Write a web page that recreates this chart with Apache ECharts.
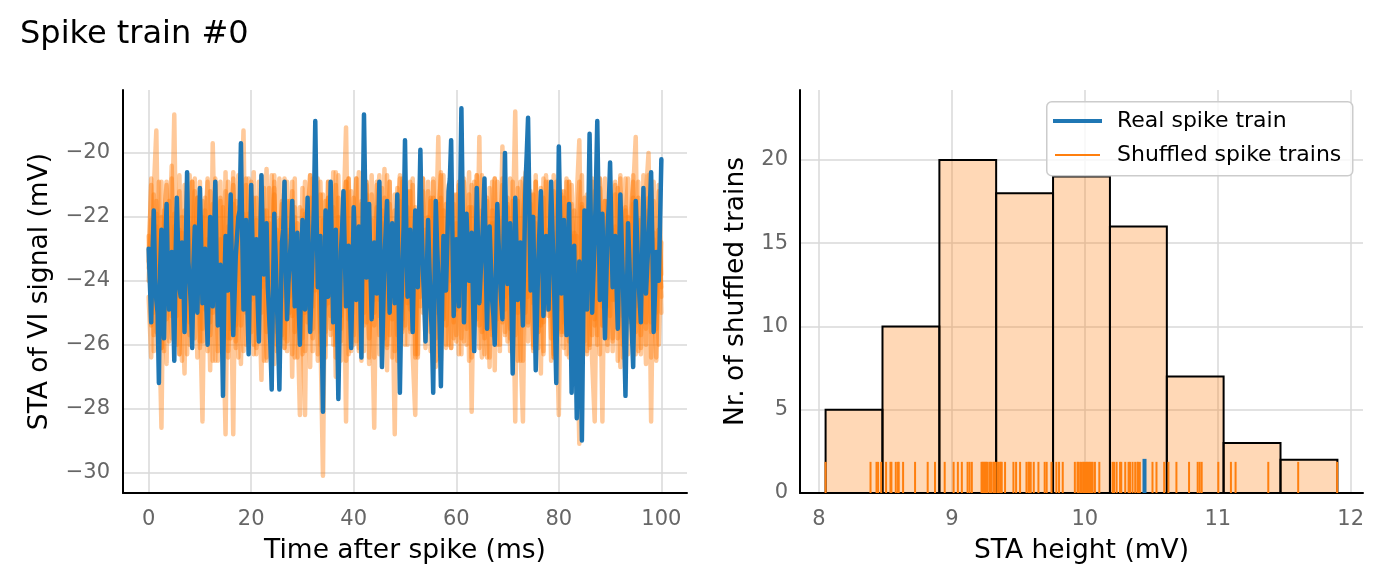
<!DOCTYPE html>
<html>
<head>
<meta charset="utf-8">
<script src="https://cdn.jsdelivr.net/npm/echarts@6/dist/echarts.min.js"></script>
<style>
html,body{margin:0;padding:0;background:#fff;}
#chart{width:1386px;height:583px;}
</style>
</head>
<body>
<div id="chart"></div>
<script>
// ---------- DATA ----------
const TITLE = 'Spike train #0';
const REAL_STEP_MS = 0.25;     // sampling step of the real STA trace
const SHUFFLED_STEP_MS = 0.5;  // sampling step of the shuffled STA traces

// Real spike-train STA (mV), t = 0 .. 100 ms
const realSTA = [
-23.0,-24.1,-25.3,-23.2,-21.8,-23.9,-24.6,-25.0,-27.2,-23.6,-22.4,-24.3,-25.8,-23.0,-21.6,-23.8,-24.9,-24.2,-23.1,-24.6,-26.5,-23.3,-21.4,-23.0,-24.2,-24.5,-22.8,-23.7,-25.6,-22.9,-20.6,-23.4,-24.0,-24.8,-26.1,-23.5,-22.3,-24.0,-25.0,-23.1,
-21.1,-22.9,-24.7,-23.6,-23.0,-24.7,-26.0,-23.8,-22.0,-23.2,-24.8,-22.8,-20.9,-23.5,-25.4,-24.1,-23.5,-25.2,-27.6,-24.4,-22.6,-23.1,-24.3,-22.7,-21.3,-23.9,-25.7,-24.5,-23.2,-22.6,-22.0,-21.8,-19.7,-22.5,-24.9,-23.4,-22.1,-24.6,-26.3,-23.7,
-21.0,-22.8,-24.4,-23.3,-22.7,-24.5,-25.9,-23.1,-20.7,-22.6,-23.8,-23.0,-22.2,-24.2,-25.1,-26.0,-27.4,-24.3,-21.9,-23.2,-24.6,-25.8,-27.4,-24.9,-22.8,-22.4,-20.9,-23.6,-25.2,-24.1,-23.4,-22.7,-21.5,-23.5,-24.8,-23.4,-22.5,-24.7,-26.0,-23.9,
-22.1,-23.5,-24.9,-23.0,-21.4,-23.7,-25.6,-24.4,-23.0,-21.6,-19.0,-21.9,-24.2,-23.4,-22.6,-25.5,-28.1,-25.0,-21.8,-23.3,-24.5,-22.8,-20.9,-23.2,-25.3,-23.9,-22.4,-25.1,-27.7,-25.3,-23.1,-22.3,-21.2,-23.1,-24.8,-23.8,-22.9,-24.6,-26.1,-24.0,
-21.7,-23.0,-24.6,-23.5,-22.3,-24.1,-26.4,-22.0,-18.8,-21.5,-23.9,-22.9,-21.6,-23.6,-25.2,-24.0,-22.8,-23.7,-24.4,-22.6,-20.9,-23.8,-26.7,-24.9,-23.3,-22.4,-21.5,-23.2,-25.0,-23.6,-22.2,-23.3,-24.7,-22.9,-21.3,-24.4,-27.5,-25.1,-23.6,-22.2,
-19.6,-22.4,-24.5,-23.2,-22.4,-24.1,-25.6,-23.4,-21.8,-23.0,-24.2,-22.0,-19.9,-22.3,-23.7,-24.6,-25.9,-23.8,-22.1,-23.5,-24.8,-25.7,-27.5,-24.2,-21.5,-22.9,-23.9,-25.4,-27.3,-24.6,-22.6,-23.1,-24.3,-22.8,-21.2,-20.8,-19.6,-22.6,-25.1,-23.7,
-22.7,-23.9,-24.8,-21.5,-18.6,-21.7,-25.3,-23.4,-21.9,-23.1,-24.0,-23.3,-22.5,-24.5,-26.2,-23.6,-21.1,-22.9,-24.7,-23.8,-23.0,-22.0,-20.8,-23.4,-25.5,-23.7,-22.3,-23.5,-24.6,-25.1,-26.0,-23.7,-21.6,-22.8,-23.8,-24.6,-25.2,-22.5,-20.0,-22.9,
-24.1,-23.0,-22.2,-24.5,-26.9,-24.2,-21.4,-23.0,-24.6,-23.7,-22.8,-24.1,-25.4,-23.2,-21.0,-20.0,-18.9,-21.6,-24.3,-23.1,-22.0,-24.4,-26.8,-25.0,-23.4,-22.3,-21.2,-23.1,-25.1,-23.9,-22.6,-23.8,-24.9,-22.8,-20.9,-22.4,-23.7,-25.4,-27.2,-23.6,
-19.8,-22.0,-24.4,-23.1,-22.1,-24.0,-25.7,-23.6,-21.6,-24.5,-27.5,-25.0,-22.9,-25.6,-28.3,-25.9,-23.4,-26.1,-29.0,-25.3,-21.8,-23.2,-24.9,-22.1,-19.4,-22.3,-25.0,-23.8,-22.7,-21.0,-19.0,-21.8,-24.6,-23.2,-21.9,-24.0,-25.8,-24.1,-22.4,-21.6,
-20.3,-22.5,-24.2,-23.3,-22.6,-24.1,-25.5,-23.4,-21.3,-22.7,-24.0,-25.8,-27.6,-24.9,-22.2,-23.3,-24.7,-25.6,-26.7,-24.2,-21.5,-22.6,-23.8,-24.6,-25.3,-23.2,-21.1,-22.9,-24.4,-23.5,-22.8,-21.7,-20.6,-22.9,-25.6,-24.4,-23.1,-23.7,-24.0,-22.1,
-20.2
];

// Shuffled spike-train STAs (mV), t = 0 .. 100 ms
const shuffledSTA1 = [
-22.6,-25.4,-21.2,-19.3,-24.8,-22.0,-26.2,-21.7,-24.1,-22.9,-18.8,-25.1,-22.4,-26.5,-21.0,-23.8,-25.7,-20.9,-24.5,-22.2,
-25.9,-21.5,-24.3,-22.7,-26.8,-19.7,-23.6,-25.2,-21.4,-24.9,-28.8,-22.3,-25.5,-20.8,-24.0,-26.4,-22.1,-19.3,-25.0,-21.9,
-24.6,-20.6,-26.1,-22.8,-24.2,-21.1,-25.6,-23.0,-20.7,-26.6,-22.4,-24.7,-21.6,-25.8,-20.9,-23.9,-26.3,-22.0,-24.8,-28.2,
-21.8,-25.0,-22.5,-26.7,-20.8,-24.3,-22.9,-25.6,-30.1,-21.5,-24.7,-22.3,-26.0,-20.6,-23.8,-25.9,-22.1,-19.2,-24.6,-26.2,
-21.4,-24.1,-22.8,-26.5,-20.9,-25.3,-22.2,-24.6,-28.6,-21.7,-25.1,-23.0,-20.5,-26.0,-22.6,-24.4,-21.3,-25.7,-23.4,-20.8,
-25.4,-22.1,-24.9,-21.0,-26.3,-23.2,-20.7,-25.0,-22.4,-24.6,-21.5,-26.1,-22.9,-19.5,-24.8,-21.8,-26.0,-23.1,-20.9,-25.3,
-22.2,-24.7,-21.3,-25.9,-23.0,-20.6,-26.4,-22.5,-24.3,-19.5,-25.6,-21.9,-24.0,-26.7,-22.3,-20.8,-25.2,-23.6,-19.8,-24.9,
-21.7,-25.5,-22.6,-18.7,-24.2,-26.0,-28.4,-21.9,-24.5,-22.1,-26.2,-20.9,-23.8,-25.4,-21.4,-24.9,-22.7,-26.5,-20.7,-24.1,
-22.8,-25.6,-21.2,-24.7,-20.9,-26.3,-22.5,-25.0,-29.1,-21.6,-24.4,-22.0,-26.1,-20.8,-25.2,-23.3,-21.1,-24.8,-22.6,-26.0,
-21.5,-24.6,-22.3,-25.8,-20.7,-23.9,-26.4,-22.0,-24.7,-21.2,-19.5,-25.3,-22.8,-24.1,-26.6,-21.4,-28.4,-22.5,-25.0,-21.0,
-23.8
];
const shuffledSTA2 = [
-23.4,-21.0,-25.7,-22.3,-24.9,-28.6,-21.8,-25.2,-22.6,-20.4,-26.0,-23.3,-21.2,-24.6,-26.9,-22.0,-20.7,-25.5,-23.0,-21.4,
-24.8,-28.4,-22.2,-20.9,-25.3,-23.1,-21.0,-26.2,-22.7,-24.5,-20.6,-25.8,-23.4,-28.8,-21.5,-24.2,-26.6,-22.0,-20.8,-25.1,
-22.9,-26.3,-21.4,-24.0,-27.1,-22.5,-20.5,-25.4,-23.2,-21.1,-26.2,-22.8,-24.5,-20.8,-25.9,-22.4,-27.0,-21.7,-24.3,-22.6,
-25.3,-28.2,-22.0,-20.7,-24.8,-22.4,-26.5,-21.3,-23.7,-25.6,-20.9,-24.2,-22.7,-27.0,-21.4,-24.9,-22.1,-28.4,-20.8,-23.5,
-26.0,-22.3,-20.6,-25.1,-23.5,-21.0,-26.4,-22.8,-24.6,-20.9,-25.7,-22.2,-24.1,-26.8,-21.6,-23.9,-28.8,-22.0,-20.7,-25.2,
-22.6,-24.7,-21.2,-26.3,-28.2,-22.0,-24.5,-20.8,-25.6,-23.0,-21.4,-24.9,-26.7,-22.2,-20.6,-25.2,-23.4,-21.0,-26.1,-22.5,
-24.9,-20.9,-25.8,-22.4,-24.1,-21.3,-28.1,-22.8,-20.7,-25.4,-23.1,-26.3,-21.5,-24.6,-22.2,-26.8,-20.9,-24.3,-22.6,-25.7,
-21.6,-24.4,-22.9,-28.4,-21.1,-24.8,-22.3,-20.6,-25.9,-23.2,-21.3,-25.5,-22.6,-26.9,-20.8,-24.1,-22.4,-25.8,-21.2,-24.6,
-28.2,-22.1,-25.3,-20.9,-24.7,-22.6,-26.2,-21.4,-19.6,-25.0,-22.8,-24.3,-21.0,-26.5,-28.4,-22.3,-20.8,-25.4,-23.0,-21.5,
-25.1,-22.4,-24.6,-21.1,-26.7,-22.9,-20.8,-25.3,-23.5,-21.6,-24.9,-26.2,-22.1,-24.4,-21.3,-20.0,-25.6,-22.7,-24.2,-26.0,
-22.8
];
const shuffledSTA3 = [
-24.0,-22.1,-25.0,-21.5,-23.7,-26.1,-22.4,-20.9,-24.6,-25.8,-21.9,-23.3,-26.3,-22.0,-24.4,-21.2,-25.3,-23.0,-20.8,-24.7,
-22.6,-25.9,-21.4,-24.2,-22.9,-26.5,-20.9,-23.6,-25.0,-21.7,-24.8,-26.2,-22.3,-21.0,-25.4,-23.1,-20.7,-24.9,-22.5,-26.0,
-21.6,-24.3,-22.8,-25.7,-21.1,-23.9,-26.4,-22.2,-24.7,-20.9,-25.3,-23.0,-21.5,-26.1,-22.6,-24.5,-21.2,-25.6,-22.9,-24.1,
-26.3,-21.9,-24.6,-22.3,-25.5,-20.8,-23.4,-26.0,-22.1,-24.8,-21.4,-25.7,-23.1,-21.0,-24.3,-26.5,-22.4,-20.9,-25.2,-23.6,
-21.8,-25.9,-22.5,-24.0,-26.2,-21.3,-23.8,-20.7,-25.4,-22.8,-24.6,-21.1,-25.8,-23.3,-20.9,-26.4,-22.2,-24.7,-21.5,-25.5,
-23.0,-21.2,-25.6,-22.6,-24.2,-26.3,-21.0,-23.7,-25.1,-22.0,-24.9,-20.8,-25.8,-23.2,-21.4,-24.5,-26.1,-22.4,-24.0,-21.6,
-25.7,-22.9,-24.4,-20.9,-26.0,-23.5,-21.7,-25.2,-22.1,-24.8,-26.4,-21.3,-23.9,-25.5,-21.8,-24.2,-22.6,-26.2,-21.0,-24.5,
-22.7,-25.8,-21.5,-24.1,-26.5,-22.3,-20.8,-25.0,-23.4,-21.6,-24.7,-22.2,-26.1,-21.1,-25.3,-23.0,-20.9,-24.6,-26.3,-22.5,
-24.9,-21.3,-25.6,-22.8,-26.4,-21.0,-24.3,-22.6,-25.8,-21.7,-24.5,-26.2,-22.0,-23.6,-21.2,-25.7,-22.9,-28.4,-21.5,-24.8,
-22.3,-25.9,-21.0,-24.4,-22.7,-26.0,-21.8,-25.1,-23.3,-20.7,-24.8,-22.1,-26.3,-21.4,-25.5,-23.2,-21.1,-24.7,-26.4,-22.4,
-24.5
];
const shuffledSTA4 = [
-23.6,-20.8,-26.2,-21.9,-25.4,-20.9,-24.8,-26.6,-21.5,-25.1,-22.3,-26.0,-20.7,-24.5,-21.8,-26.3,-22.6,-20.9,-25.8,-21.4,
-26.1,-22.0,-24.9,-20.8,-25.7,-21.6,-26.5,-22.4,-20.9,-25.3,-21.2,-26.4,-23.0,-20.6,-25.9,-21.7,-24.6,-26.2,-21.0,-25.5,
-20.9,-26.0,-22.1,-25.2,-20.7,-26.5,-21.8,-24.9,-26.3,-21.3,-25.6,-20.8,-24.7,-26.1,-21.5,-25.0,-20.9,-26.4,-22.2,-25.3,
-21.1,-26.2,-22.5,-20.7,-25.8,-21.6,-26.3,-20.9,-24.8,-26.0,-21.4,-25.5,-20.6,-26.4,-22.0,-25.1,-21.2,-26.5,-20.8,-25.6,
-22.3,-20.8,-26.1,-21.5,-25.4,-20.9,-26.6,-22.1,-25.0,-21.0,-26.3,-21.8,-24.9,-20.7,-25.7,-22.4,-26.2,-21.1,-25.3,-20.9,
-26.0,-21.7,-25.5,-20.8,-26.4,-22.0,-24.8,-21.2,-26.1,-20.9,-25.6,-21.4,-26.5,-22.3,-20.7,-25.2,-21.6,-26.0,-20.8,-25.8,
-21.3,-26.3,-20.9,-25.1,-22.2,-26.5,-21.0,-25.4,-20.7,-26.1,-21.8,-24.9,-26.4,-21.1,-25.7,-20.8,-26.0,-22.1,-25.3,-21.4,
-25.9,-20.8,-26.3,-21.7,-25.0,-20.9,-26.5,-22.0,-25.4,-21.2,-26.1,-20.7,-25.6,-21.9,-26.2,-20.9,-24.9,-21.5,-26.4,-22.3,
-20.8,-25.7,-21.4,-26.3,-20.9,-25.2,-21.8,-26.5,-22.1,-20.7,-25.9,-21.3,-26.0,-20.9,-25.4,-21.6,-26.3,-22.2,-20.8,-25.8,
-21.2,-26.2,-20.9,-25.5,-21.7,-26.4,-22.0,-20.8,-25.1,-21.4,-26.3,-20.9,-25.7,-21.9,-26.0,-20.7,-25.3,-21.5,-26.5,-22.4,
-24.2
];
const shuffledSTA5 = [
-24.5,-26.4,-21.3,-25.6,-20.9,-26.1,-22.2,-21.0,-25.9,-20.8,-24.6,-21.7,-26.3,-22.5,-25.2,-20.9,-26.0,-24.8,-21.2,-26.4,
-20.9,-25.5,-21.8,-26.2,-21.2,-25.0,-20.8,-26.5,-21.5,-25.7,-22.3,-20.9,-25.8,-21.6,-26.1,-20.7,-25.4,-21.9,-26.0,-20.8,
-25.6,-21.4,-26.3,-20.9,-25.0,-21.8,-26.5,-21.1,-25.4,-20.7,-26.0,-22.1,-25.7,-20.9,-26.2,-21.5,-25.1,-20.8,-26.4,-21.7,
-25.8,-20.9,-25.3,-21.4,-26.2,-22.0,-20.8,-25.6,-21.3,-26.4,-20.9,-25.1,-21.7,-26.0,-20.7,-25.5,-22.2,-20.9,-26.3,-21.2,
-25.7,-20.8,-26.2,-21.6,-25.0,-20.9,-25.8,-21.3,-26.4,-22.0,-20.7,-25.5,-21.4,-26.1,-20.9,-25.2,-21.8,-26.5,-20.8,-25.6,
-21.5,-26.0,-20.9,-25.3,-21.7,-26.4,-22.1,-20.8,-25.8,-21.2,-26.2,-20.9,-25.0,-21.6,-26.5,-20.7,-25.4,-22.0,-26.1,-21.3,
-25.9,-21.0,-26.3,-20.8,-25.5,-21.7,-26.1,-20.9,-25.2,-22.3,-20.7,-25.8,-21.4,-26.4,-20.9,-25.3,-21.8,-26.0,-20.8,-25.6,
-21.4,-26.2,-20.9,-25.7,-21.5,-26.5,-22.0,-20.8,-25.3,-21.3,-26.0,-20.9,-25.6,-21.8,-26.3,-20.7,-25.1,-21.6,-26.4,-20.9,
-25.5,-21.2,-26.1,-20.8,-25.9,-21.6,-26.4,-22.2,-20.9,-25.2,-21.4,-26.3,-20.7,-25.7,-21.9,-26.0,-20.8,-25.4,-21.5,-26.2,
-20.9,-25.8,-21.3,-26.5,-20.8,-25.1,-21.7,-26.3,-22.0,-20.9,-25.6,-21.4,-26.1,-20.7,-25.3,-21.8,-26.4,-20.9,-25.5,-21.2,
-25.0
];

// Histogram of STA heights of shuffled trains
const binEdges = [8.05, 8.478, 8.906, 9.333, 9.761, 10.189, 10.617, 11.044, 11.472, 11.9];
const binCounts = [5, 10, 20, 18, 19, 16, 7, 3, 2];

// Rug: STA heights (mV) of each shuffled train, and of the real train
const shuffledHeights = [
8.05, 8.388, 8.433, 8.445, 8.468,
8.505, 8.538, 8.545, 8.578, 8.595, 8.600, 8.633, 8.723, 8.818, 8.873,
8.946, 9.013, 9.045, 9.075, 9.118, 9.133, 9.150, 9.223, 9.230, 9.238, 9.245, 9.253, 9.260, 9.268, 9.283, 9.290, 9.298, 9.313, 9.320, 9.328,
9.343, 9.350, 9.363, 9.368, 9.375, 9.400, 9.463, 9.483, 9.513, 9.561, 9.576, 9.580, 9.593, 9.616, 9.651, 9.698, 9.713, 9.749,
9.786, 9.806, 9.834, 9.925, 9.945, 9.950, 9.965, 9.975, 9.987, 9.995, 10.006, 10.015, 10.021, 10.030, 10.039, 10.050, 10.059, 10.076, 10.109,
10.209, 10.220, 10.239, 10.265, 10.274, 10.304, 10.329, 10.340, 10.359, 10.379, 10.396, 10.400, 10.414, 10.509, 10.539, 10.597,
10.629, 10.689, 10.784, 10.849, 10.864, 10.879, 11.004,
11.099, 11.134, 11.380,
11.605, 11.898
];
const realHeight = [10.449];

const leftXTicks = [0, 20, 40, 60, 80, 100];
const leftYTicks = [-30, -28, -26, -24, -22, -20];
const rightXTicks = [8, 9, 10, 11, 12];
const rightYTicks = [0, 5, 10, 15, 20];

// ---------- CHART ----------
const BLUE = '#1f77b4', ORANGE = '#ff7f0e';
const FONT = 'DejaVu Sans';
const GRID_COLOR = '#d9d9d9';
const TICK_FONT = 21, LABEL_FONT = 26.5;

const toXY = (arr, step) => arr.map((v, i) => [i * step, v]);

function axisCommon(ticks, extra, labelExtra) {
  return Object.assign({
    type: 'value',
    axisLine: { show: true, onZero: false, lineStyle: { color: '#000', width: 2 } },
    axisTick: { show: false, customValues: ticks },
    axisLabel: Object.assign({ customValues: ticks, color: '#666', fontFamily: FONT, fontSize: TICK_FONT, margin: 12 }, labelExtra || {}),
    splitLine: { show: true, lineStyle: { color: GRID_COLOR, width: 1.5 } },
    nameLocation: 'middle',
    nameTextStyle: { color: '#000', fontFamily: FONT, fontSize: LABEL_FONT }
  }, extra);
}

const chart = echarts.init(document.getElementById('chart'), null, { renderer: 'canvas' });

const shuffledLine = (name, data) => ({
  type: 'line', name: name, xAxisIndex: 0, yAxisIndex: 0,
  data: toXY(data, SHUFFLED_STEP_MS), showSymbol: false, symbol: 'none', sampling: null,
  lineStyle: { color: ORANGE, width: 4.5, opacity: 0.42, join: 'round', cap: 'round' },
  itemStyle: { color: ORANGE }, silent: true, z: 2
});

const option = {
  animation: false,
  backgroundColor: '#fff',
  title: {
    text: TITLE, left: 15, top: 14,
    textStyle: { fontFamily: FONT, fontSize: 32, fontWeight: 'normal', color: '#000' }
  },
  grid: [
    { left: 123, top: 90, width: 564, height: 403 },
    { left: 800, top: 90, width: 563, height: 403 }
  ],
  xAxis: [
    axisCommon(leftXTicks, { gridIndex: 0, min: -5, max: 105, name: 'Time after spike (ms)', nameGap: 45 }, { margin: 16 }),
    axisCommon(rightXTicks, { gridIndex: 1, min: 7.8575, max: 12.0925, name: 'STA height (mV)', nameGap: 45 }, { margin: 16 })
  ],
  yAxis: [
    axisCommon(leftYTicks, { gridIndex: 0, min: -30.64, max: -18.03, name: 'STA of VI signal (mV)', nameGap: 69 },
      { margin: 13, formatter: v => (v < 0 ? '\u2212' + Math.abs(v) : String(v)) }),
    axisCommon(rightYTicks, { gridIndex: 1, min: 0, max: 24.2, name: 'Nr. of shuffled trains', nameGap: 50 })
  ],
  legend: [
    {
      data: [{ name: 'Real spike train', icon: 'rect', itemStyle: { color: BLUE } }],
      left: 1053, top: 110, padding: 0, itemWidth: 49, itemHeight: 4, z: 100,
      textStyle: { fontFamily: FONT, fontSize: 22, color: '#000', padding: [0, 0, 0, 10] },
      selectedMode: false
    },
    {
      data: [{ name: 'Shuffled spike trains', icon: 'rect', itemStyle: { color: ORANGE } }],
      left: 1055, top: 144, padding: 0, itemWidth: 45, itemHeight: 2, z: 100,
      textStyle: { fontFamily: FONT, fontSize: 22, color: '#000', padding: [0, 0, 0, 12] },
      selectedMode: false
    }
  ],
  graphic: [{
    type: 'rect', left: 1046, top: 101, z: 10,
    shape: { width: 306, height: 74, r: 5 },
    style: { fill: 'rgba(255,255,255,0.8)', stroke: '#cccccc', lineWidth: 1.5 }
  }],
  series: [
    shuffledLine('Shuffled STA 1', shuffledSTA1),
    shuffledLine('Shuffled STA 2', shuffledSTA2),
    shuffledLine('Shuffled STA 3', shuffledSTA3),
    shuffledLine('Shuffled STA 4', shuffledSTA4),
    shuffledLine('Shuffled STA 5', shuffledSTA5),
    {
      type: 'line', name: 'Real STA', xAxisIndex: 0, yAxisIndex: 0,
      data: toXY(realSTA, REAL_STEP_MS), showSymbol: false, symbol: 'none', sampling: null,
      lineStyle: { color: BLUE, width: 4.5, join: 'round', cap: 'round' }, itemStyle: { color: BLUE }, silent: true, z: 3
    },
    {
      type: 'custom', name: 'Histogram', xAxisIndex: 1, yAxisIndex: 1,
      data: binCounts.map((c, i) => [binEdges[i], binEdges[i + 1], c]),
      encode: { x: [0, 1], y: 2 },
      renderItem: function (params, api) {
        const p0 = api.coord([api.value(0), api.value(2)]);
        const p1 = api.coord([api.value(1), 0]);
        return {
          type: 'rect',
          shape: { x: p0[0], y: p0[1], width: p1[0] - p0[0], height: p1[1] - p0[1] },
          style: { fill: 'rgba(255,127,14,0.3)', stroke: '#000', lineWidth: 2 }
        };
      },
      z: 2, silent: true
    },
    {
      type: 'custom', name: 'Shuffled spike trains', xAxisIndex: 1, yAxisIndex: 1,
      data: shuffledHeights.map(v => [v, 0]),
      encode: { x: 0, y: 1 },
      itemStyle: { color: ORANGE },
      renderItem: function (params, api) {
        const a = api.coord([api.value(0), 0]);
        const b = api.coord([api.value(0), 1.87]);
        return { type: 'line', shape: { x1: a[0], y1: a[1], x2: b[0], y2: b[1] },
          style: { stroke: ORANGE, lineWidth: 2 } };
      },
      z: 3, silent: true
    },
    {
      type: 'custom', name: 'Real spike train', xAxisIndex: 1, yAxisIndex: 1,
      data: realHeight.map(v => [v, 0]),
      encode: { x: 0, y: 1 },
      itemStyle: { color: BLUE },
      renderItem: function (params, api) {
        const a = api.coord([api.value(0), 0]);
        const b = api.coord([api.value(0), 2.05]);
        return { type: 'line', shape: { x1: a[0], y1: a[1], x2: b[0], y2: b[1] },
          style: { stroke: BLUE, lineWidth: 4 } };
      },
      z: 4, silent: true
    }
  ]
};

chart.setOption(option);
</script>
</body>
</html>
